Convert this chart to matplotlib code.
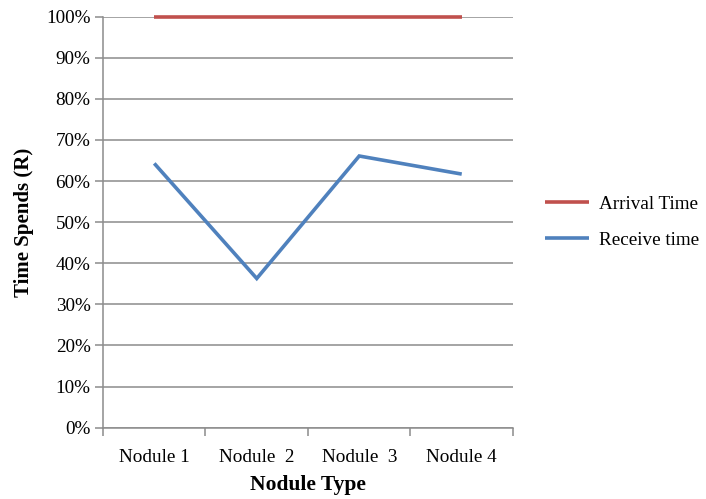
import numpy as np
import matplotlib
matplotlib.use("Agg")
import matplotlib.pyplot as plt
from matplotlib.ticker import PercentFormatter, FixedLocator

# Share of time spent per nodule type
categories = ["Nodule 1", "Nodule  2", "Nodule  3", "Nodule 4"]
arrival_time = [100, 100, 100, 100]
receive_time = [64.3, 36.3, 66.1, 61.7]

plt.rcParams['font.family'] = ['Liberation Serif', 'DejaVu Serif']
plt.rcParams['font.size'] = 13.8

grid_color = "#8c8c8c"

fig = plt.figure(figsize=(7.06, 4.99), dpi=100)
ax = fig.add_axes([0.1459, 0.1429, 0.5807, 0.8237])

x = np.arange(len(categories))
ax.plot(x, arrival_time, color="#C0504D", lw=2.6, label="Arrival Time",
        solid_capstyle="butt", clip_on=False)
ax.plot(x, receive_time, color="#4F81BD", lw=2.6, label="Receive time",
        solid_capstyle="butt", solid_joinstyle="miter")

ax.set_xlim(-0.5, len(categories) - 0.5)
ax.set_ylim(0, 100)
ax.set_yticks(np.arange(0, 101, 10))
ax.yaxis.set_major_formatter(PercentFormatter(decimals=0))
ax.yaxis.grid(True, color=grid_color, lw=1.1)
ax.set_axisbelow(True)

# category labels centred, tick marks on the boundaries
ax.set_xticks(x)
ax.set_xticklabels(categories)
ax.tick_params(axis="x", which="major", length=0, pad=15)
ax.xaxis.set_minor_locator(FixedLocator(np.arange(-0.5, len(categories), 1)))
ax.tick_params(axis="x", which="minor", length=6, color=grid_color, width=1.1)
ax.tick_params(axis="y", length=6, color=grid_color, width=1.1, pad=3)

for side in ["top", "right"]:
    ax.spines[side].set_visible(False)
for side in ["left", "bottom"]:
    ax.spines[side].set_color(grid_color)
    ax.spines[side].set_linewidth(1.1)

ax.set_xlabel("Nodule Type", fontweight="bold", fontsize=15.5, labelpad=7)
ax.set_ylabel("Time Spends (R)", fontweight="bold", fontsize=15, labelpad=9)

ax.legend(loc="center left", bbox_to_anchor=(1.036, 0.5), frameon=False,
          handlelength=2.3, labelspacing=1.0, handletextpad=0.5)

fig.savefig("out.png", dpi=100)
